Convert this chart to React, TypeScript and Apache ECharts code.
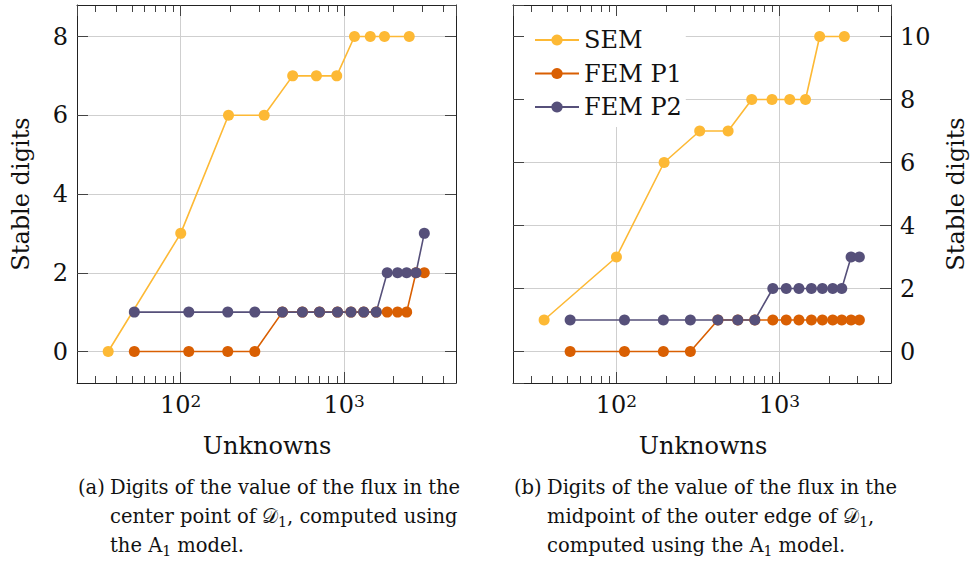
import React, { useEffect, useRef } from "react";
import * as echarts from "echarts";

// ---- data ----
const semUnknowns = [36, 100, 196, 324, 484, 676, 900, 1156, 1444, 1764, 2500];
const femUnknowns = [52, 112, 194, 284, 419, 555, 706, 910, 1100, 1316, 1570, 1833, 2121, 2410, 2749, 3090];

const semDigitsA = [0, 3, 6, 6, 7, 7, 7, 8, 8, 8, 8];
const femP1DigitsA = [0, 0, 0, 0, 1, 1, 1, 1, 1, 1, 1, 1, 1, 1, 2, 2];
const femP2DigitsA = [1, 1, 1, 1, 1, 1, 1, 1, 1, 1, 1, 2, 2, 2, 2, 3];

const semDigitsB = [1, 3, 6, 7, 7, 8, 8, 8, 8, 10, 10];
const femP1DigitsB = [0, 0, 0, 0, 1, 1, 1, 1, 1, 1, 1, 1, 1, 1, 1, 1];
const femP2DigitsB = [1, 1, 1, 1, 1, 1, 1, 2, 2, 2, 2, 2, 2, 2, 3, 3];

const seriesNames = ["SEM", "FEM P1", "FEM P2"];
const yTickLabelsA = [0, 2, 4, 6, 8];
const yTickLabelsB = [0, 2, 4, 6, 8, 10];
const xTickExponents = [2, 3];
const xMinorTicks = [30, 40, 50, 60, 70, 80, 90, 200, 300, 400, 500, 600, 700, 800, 900, 2000, 3000, 4000];

const xTitle = "Unknowns";
const yTitle = "Stable digits";
// rich-text lines: {n|...} normal, {s|...} subscript
const captionA = [
  "{n|Digits of the value of the flux in the}",
  "{n|center point of 𝒟}{s|1}{n|, computed using}",
  "{n|the A}{s|1}{n| model.}",
];
const captionB = [
  "{n|Digits of the value of the flux in the}",
  "{n|midpoint of the outer edge of 𝒟}{s|1}{n|,}",
  "{n|computed using the A}{s|1}{n| model.}",
];

// ---- styles ----
const FONT = "'DejaVu Serif', serif";
const COLORS = ["#FDB935", "#D95F02", "#56507A"];
const TEXT = "#111";
const FRAME = "#222";
const TICK = "#444";
const GRIDC = "#cfcfcf";
const X_MIN = 23.2;
const X_MAX = 4830;
const Y_RANGE_A = [-0.8, 8.8];
const Y_RANGE_B = [-1, 11];

function xFormatter(v: number) {
  const l = Math.log10(v);
  const r = Math.round(l);
  if (Math.abs(l - r) < 1e-6 && xTickExponents.indexOf(r) >= 0) return "{b|10}{s|" + r + "}";
  return "";
}

function makeXAxes(gridIndex: number) {
  const base: any = {
    type: "log",
    logBase: 10,
    gridIndex,
    min: X_MIN,
    max: X_MAX,
    axisLine: { show: true, onZero: false, lineStyle: { color: FRAME, width: 1 } },
    axisTick: { show: true, inside: true, length: 11, lineStyle: { color: TICK, width: 1 } },
    minorTick: { show: false },
    splitLine: { show: false },
    minorSplitLine: { show: false },
  };
  return [
    {
      ...base,
      position: "bottom",
      splitLine: { show: true, showMinLine: false, showMaxLine: false, lineStyle: { color: GRIDC, width: 1 } },
      axisLabel: {
        show: true,
        formatter: xFormatter,
        color: TEXT,
        margin: 9,
        showMinLabel: false,
        showMaxLabel: false,
        rich: {
          b: { fontFamily: FONT, fontSize: 24, color: TEXT, lineHeight: 26 },
          s: { fontFamily: FONT, fontSize: 17, color: TEXT, lineHeight: 16, verticalAlign: "top" },
        },
      },
    },
    { ...base, position: "top", z: 5, axisLabel: { show: false } },
  ];
}

function makeYAxes(gridIndex: number, range: number[], labels: number[], labelSide: "left" | "right") {
  const base: any = {
    type: "value",
    gridIndex,
    min: range[0],
    max: range[1],
    splitNumber: 5,
    minInterval: 2,
    maxInterval: 2,
    axisLine: { show: true, onZero: false, lineStyle: { color: FRAME, width: 1 } },
    axisTick: { show: true, inside: true, length: 11, lineStyle: { color: TICK, width: 1 } },
    splitLine: { show: false },
  };
  return [
    {
      ...base,
      position: labelSide,
      splitLine: { show: true, showMinLine: false, showMaxLine: false, lineStyle: { color: GRIDC, width: 1 } },
      axisLabel: {
        show: true,
        fontFamily: FONT,
        fontSize: 24,
        color: TEXT,
        margin: 9,
        showMinLabel: false,
        showMaxLabel: false,
        formatter: (v: number) => (labels.indexOf(Math.round(v * 1000) / 1000) >= 0 ? String(Math.round(v)) : ""),
      },
    },
    { ...base, position: labelSide === "left" ? "right" : "left", z: 5, axisLabel: { show: false } },
  ];
}

function lineSeries(name: string, xs: number[], ys: number[], color: string, axisIndex: number) {
  return {
    type: "line",
    name,
    xAxisIndex: axisIndex,
    yAxisIndex: axisIndex,
    data: xs.map((x, i) => [x, ys[i]]),
    symbol: "circle",
    symbolSize: 11,
    showSymbol: true,
    color,
    lineStyle: { color, width: 1.6 },
    itemStyle: { color },
    emphasis: { disabled: true },
    z: 3,
  };
}

function textEl(x: number, y: number, text: string, size: number, align = "left", rotation = 0) {
  return {
    type: "text",
    x,
    y,
    rotation,
    silent: true,
    style: {
      text,
      fill: TEXT,
      fontFamily: FONT,
      fontSize: size,
      textAlign: align,
      textVerticalAlign: "middle",
      verticalAlign: "middle",
    },
  };
}

const CAP_FS = 19.5;
const captionRich = {
  n: { fontFamily: FONT, fontSize: CAP_FS, fill: TEXT, color: TEXT, lineHeight: 24, verticalAlign: "middle" },
  s: { fontFamily: FONT, fontSize: 14, fill: TEXT, color: TEXT, lineHeight: 11, verticalAlign: "bottom" },
};

function richEl(x: number, y: number, text: string) {
  return {
    type: "text",
    x,
    y,
    silent: true,
    style: {
      text,
      fill: TEXT,
      fontFamily: FONT,
      fontSize: CAP_FS,
      textAlign: "left",
      verticalAlign: "middle",
      rich: captionRich,
    },
  };
}

function captionEls(labelX: number, textX: number, label: string, lines: string[]) {
  const baselines = [495, 524, 553];
  const off = 0.36 * CAP_FS;
  const els: any[] = [richEl(labelX, baselines[0] - off, "{n|" + label + "}")];
  lines.forEach((t, i) => els.push(richEl(textX, baselines[i] - off, t)));
  return els;
}

// minor ticks of the log axes, positioned via the chart's own axis conversion
function minorTickEls(chart: any, axisIndex: number, yRange: number[]) {
  const els: any[] = [];
  const yBottom = chart.convertToPixel({ yAxisIndex: axisIndex }, yRange[0]);
  const yTop = chart.convertToPixel({ yAxisIndex: axisIndex }, yRange[1]);
  if (!isFinite(yBottom) || !isFinite(yTop)) return els;
  const style = { stroke: TICK, lineWidth: 1 };
  xMinorTicks.forEach((v) => {
    const px = chart.convertToPixel({ xAxisIndex: axisIndex }, v);
    if (!isFinite(px)) return;
    const x = Math.round(px) + 0.5;
    els.push({ type: "line", silent: true, z: 5, shape: { x1: x, y1: yBottom, x2: x, y2: yBottom - 7 }, style });
    els.push({ type: "line", silent: true, z: 5, shape: { x1: x, y1: yTop, x2: x, y2: yTop + 7 }, style });
  });
  return els;
}

export default function App() {
  const ref = useRef<HTMLDivElement>(null);
  useEffect(() => {
    if (!ref.current) return;
    const chart = echarts.init(ref.current, null, { renderer: "svg" });
    const textGraphics = [
      textEl(267, 446, xTitle, 24, "center"),
      textEl(703, 446, xTitle, 24, "center"),
      textEl(21, 194, yTitle, 24, "center", Math.PI / 2),
      textEl(956, 194, yTitle, 24, "center", Math.PI / 2),
      ...captionEls(78, 110, "(a)", captionA),
      ...captionEls(514, 547, "(b)", captionB),
    ];
    const option: any = {
      animation: false,
      backgroundColor: "#fff",
      grid: [
        { left: 77, top: 5, width: 379, height: 378, outerBoundsMode: "none" },
        { left: 513, top: 5, width: 378, height: 378, outerBoundsMode: "none" },
      ],
      xAxis: [...makeXAxes(0), ...makeXAxes(1)],
      yAxis: [...makeYAxes(0, Y_RANGE_A, yTickLabelsA, "left"), ...makeYAxes(1, Y_RANGE_B, yTickLabelsB, "right")],
      legend: {
        show: true,
        orient: "vertical",
        left: 514,
        top: 6,
        padding: [21, 4, 7, 20],
        itemGap: 7.5,
        itemWidth: 44,
        itemHeight: 14,
        backgroundColor: "#fff",
        selectedMode: false,
        data: seriesNames,
        textStyle: { fontFamily: FONT, fontSize: 24, color: TEXT, lineHeight: 26 },
      },
      series: [
        lineSeries(seriesNames[0], semUnknowns, semDigitsA, COLORS[0], 0),
        lineSeries(seriesNames[1], femUnknowns, femP1DigitsA, COLORS[1], 0),
        lineSeries(seriesNames[2], femUnknowns, femP2DigitsA, COLORS[2], 0),
        lineSeries(seriesNames[0], semUnknowns, semDigitsB, COLORS[0], 2),
        lineSeries(seriesNames[1], femUnknowns, femP1DigitsB, COLORS[1], 2),
        lineSeries(seriesNames[2], femUnknowns, femP2DigitsB, COLORS[2], 2),
      ],
      graphic: textGraphics,
    };
    chart.setOption(option);
    const ticks = [...minorTickEls(chart, 0, Y_RANGE_A), ...minorTickEls(chart, 2, Y_RANGE_B)];
    chart.setOption({ graphic: [...textGraphics, ...ticks] });
    return () => chart.dispose();
  }, []);
  return (
    <div
      ref={ref}
      style={{ position: "absolute", left: 0, top: 0, width: 973, height: 563, background: "#fff" }}
    />
  );
}
